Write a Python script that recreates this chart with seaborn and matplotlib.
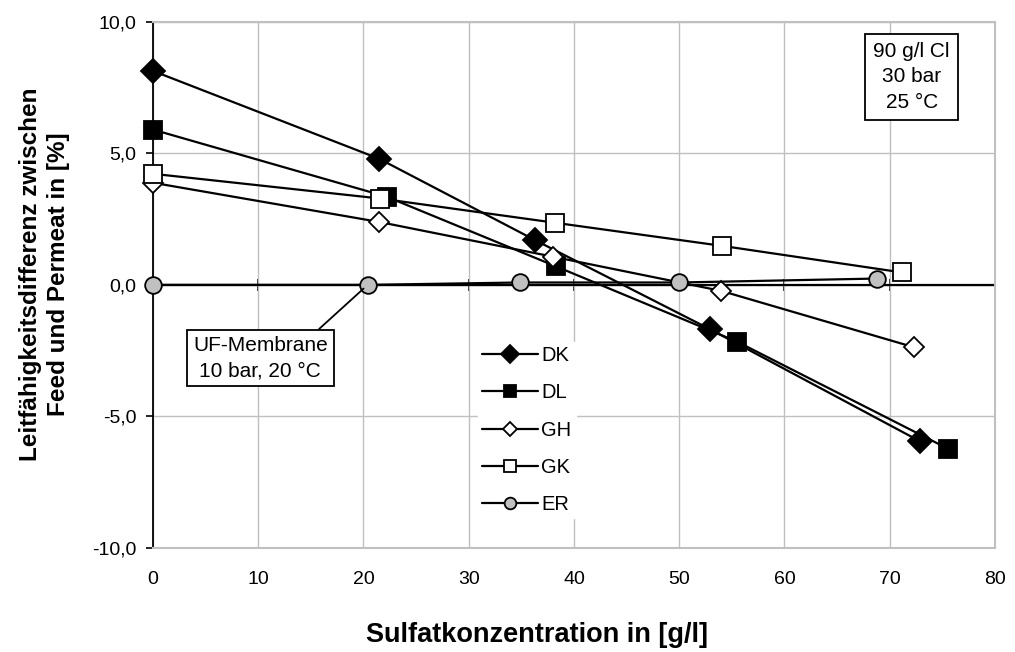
import numpy as np
import pandas as pd
import matplotlib
matplotlib.use("Agg")
import matplotlib.pyplot as plt
import seaborn as sns

# ------------------------------------------
# Data
# ------------------------------------------
dk_x = [0.0, 21.5, 36.3, 52.9, 72.9]
dk_y = [8.13, 4.79, 1.70, -1.68, -5.95]

dl_x = [0.0, 22.2, 38.3, 55.5, 75.5]
dl_y = [5.90, 3.35, 0.70, -2.16, -6.22]

gh_x = [0.0, 21.5, 38.0, 54.0, 72.3]
gh_y = [3.88, 2.39, 1.07, -0.23, -2.37]

gk_x = [0.0, 21.6, 38.2, 54.1, 71.2]
gk_y = [4.22, 3.28, 2.36, 1.48, 0.47]

er_x = [0.0, 20.4, 34.9, 50.0, 68.8]
er_y = [0.0, 0.0, 0.09, 0.09, 0.24]

x_ticks = [0, 10, 20, 30, 40, 50, 60, 70, 80]
y_ticks = [-10, -5, 0, 5, 10]
y_tick_labels = ["-10,0", "-5,0", "0,0", "5,0", "10,0"]

# ------------------------------------------
# Style
# ------------------------------------------
sns.set_style("white")
plt.rcParams['font.family'] = ['Liberation Sans', 'DejaVu Sans']
plt.rcParams['text.color'] = 'black'
plt.rcParams['axes.labelcolor'] = 'black'
plt.rcParams['xtick.color'] = 'black'
plt.rcParams['ytick.color'] = 'black'

fig = plt.figure(figsize=(10.15, 6.52), dpi=100)
ax = fig.add_axes([0.1507, 0.1595, 0.8296, 0.8072])

grid_col = "#c0c0c0"

series = [
    ("DK", dk_x, dk_y, "D", 12.5, "black"),
    ("DL", dl_x, dl_y, "s", 13, "black"),
    ("GH", gh_x, gh_y, "D", 10, "white"),
    ("GK", gk_x, gk_y, "s", 13, "white"),
    ("ER", er_x, er_y, "o", 12, "#c0c0c0"),
]

# zero line
ax.axhline(0, color="black", lw=1.6, zorder=2)

for name, xs, ys, mk, ms, fc in series:
    sns.lineplot(x=xs, y=ys, ax=ax, label=name, color="black", lw=1.6,
                 marker=mk, markersize=ms, markerfacecolor=fc,
                 markeredgecolor="black", markeredgewidth=1.3, zorder=3,
                 clip_on=False)

# ------------------------------------------
# Axes
# ------------------------------------------
ax.set_xlim(0, 80)
ax.set_ylim(-10, 10)
ax.set_xticks(x_ticks)
ax.set_yticks(y_ticks)
ax.set_yticklabels(y_tick_labels)
ax.grid(True, color=grid_col, lw=1.0)
ax.set_axisbelow(True)

for side in ["top", "right", "bottom"]:
    ax.spines[side].set_color(grid_col)
    ax.spines[side].set_linewidth(1.5)
ax.spines["left"].set_color("black")
ax.spines["left"].set_linewidth(1.3)

ax.tick_params(axis="x", length=0, pad=16.5, labelsize=14)
ax.tick_params(axis="y", length=5, width=1.2, direction="out", pad=7,
               labelsize=14, left=True)

# x axis crossing at y = 0 with cross ticks
zero_ax = ax.secondary_xaxis(0.5)
zero_ax.set_xticks(x_ticks)
zero_ax.xaxis.set_ticklabels([])
zero_ax.tick_params(axis="x", direction="inout", length=9, width=1.2)
zero_ax.spines["bottom"].set_color("black")
zero_ax.spines["bottom"].set_linewidth(1.6)

ax.set_xlabel("Sulfatkonzentration in [g/l]", fontsize=19.5, fontweight="bold")
ax.xaxis.set_label_coords(0.456, -0.141)
ax.set_ylabel("Leitfähigkeitsdifferenz zwischen\nFeed und Permeat in [%]",
              fontsize=17.5, fontweight="bold", linespacing=1.3)
ax.yaxis.set_label_coords(-0.098, 0.52)

# ------------------------------------------
# Annotations
# ------------------------------------------
ax.text(0.901, 0.895, "90 g/l Cl\n30 bar\n25 °C", transform=ax.transAxes,
        ha="center", va="center", fontsize=15, linespacing=1.42,
        bbox=dict(boxstyle="square,pad=0.4", fc="white", ec="black", lw=1.3))

ax.annotate("UF-Membrane\n10 bar, 20 °C", xy=(er_x[1], er_y[1]),
            xytext=(10.2, -2.78), ha="center", va="center", fontsize=15,
            linespacing=1.42,
            bbox=dict(boxstyle="square,pad=0.3", fc="white", ec="black", lw=1.3),
            arrowprops=dict(arrowstyle="-", color="black", lw=1.3,
                            relpos=(0.88, 1.0), shrinkA=0, shrinkB=4),
            zorder=5)

# ------------------------------------------
# Legend
# ------------------------------------------
leg = ax.legend(loc="upper left", bbox_to_anchor=(0.374, 0.41), fontsize=14.5,
                frameon=True, fancybox=False, framealpha=1, edgecolor="white",
                facecolor="white", markerscale=0.7, handlelength=2.8,
                handletextpad=0.15, labelspacing=0.9, borderpad=0.2)
leg.set_zorder(4)

fig.savefig("out.png", dpi=100)
